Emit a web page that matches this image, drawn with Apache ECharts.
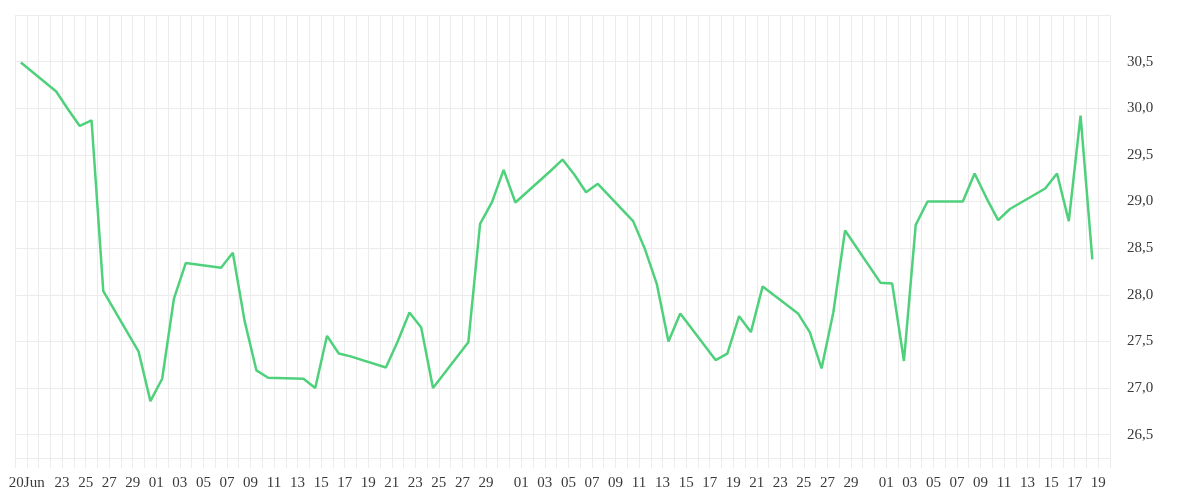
<!DOCTYPE html>
<html>
<head>
<meta charset="utf-8">
<script src="https://cdn.jsdelivr.net/npm/echarts@6/dist/echarts.min.js"></script>
<style>
  html, body { margin: 0; padding: 0; background: #ffffff; }
  #chart { width: 1200px; height: 500px; }
</style>
</head>
<body>
<div id="chart"></div>
<script>
// Trading dates (UTC calendar days) and closing values
const dates = [
  '2020-06-19','2020-06-22','2020-06-23','2020-06-24','2020-06-25','2020-06-26',
  '2020-06-29','2020-06-30','2020-07-01','2020-07-02','2020-07-03',
  '2020-07-06','2020-07-07','2020-07-08','2020-07-09','2020-07-10',
  '2020-07-13','2020-07-14','2020-07-15','2020-07-16','2020-07-17',
  '2020-07-20','2020-07-21','2020-07-22','2020-07-23','2020-07-24',
  '2020-07-27','2020-07-28','2020-07-29','2020-07-30','2020-07-31',
  '2020-08-03','2020-08-04','2020-08-05','2020-08-06','2020-08-07',
  '2020-08-10','2020-08-11','2020-08-12','2020-08-13','2020-08-14',
  '2020-08-17','2020-08-18','2020-08-19','2020-08-20','2020-08-21',
  '2020-08-24','2020-08-25','2020-08-26','2020-08-27','2020-08-28',
  '2020-08-31','2020-09-01','2020-09-02','2020-09-03','2020-09-04',
  '2020-09-07','2020-09-08','2020-09-09','2020-09-10','2020-09-11',
  '2020-09-14','2020-09-15','2020-09-16','2020-09-17','2020-09-18'
];
const values = [
  30.49, 30.18, 29.99, 29.81, 29.87, 28.04,
  27.39, 26.86, 27.10, 27.96, 28.34,
  28.29, 28.45, 27.72, 27.19, 27.11,
  27.10, 27.00, 27.56, 27.37, 27.34,
  27.22, 27.50, 27.81, 27.65, 27.00,
  27.49, 28.76, 28.99, 29.34, 28.99,
  29.33, 29.45, 29.29, 29.10, 29.19,
  28.79, 28.49, 28.12, 27.50, 27.80,
  27.30, 27.37, 27.77, 27.60, 28.09,
  27.80, 27.60, 27.21, 27.81, 28.69,
  28.13, 28.12, 27.29, 28.75, 29.00,
  29.00, 29.30, 29.04, 28.80, 28.92,
  29.14, 29.30, 28.79, 29.92, 28.38
];

// Axis range and tick labels
const xStart = '2020-06-19';
const xEnd = '2020-09-20';
const firstTickLabelDate = '2020-06-20';
const firstTickLabelText = '20Jun';
const hiddenTickDates = ['2020-06-19', '2020-06-21'];
const yMin = 26.25, yMax = 31.0, yStep = 0.25;
const yLabelValues = [26.5, 27.0, 27.5, 28.0, 28.5, 29.0, 29.5, 30.0, 30.5];

const DAY = 86400000;
const toTime = (d, h) => Date.parse(d + 'T' + (h || '00') + ':00:00Z');
const pad = n => (n < 10 ? '0' : '') + n;
const isoOf = v => new Date(v).toISOString().slice(0, 10);

const seriesData = dates.map((d, i) => [toTime(d, '12'), values[i]]);

const chart = echarts.init(document.getElementById('chart'), null, { renderer: 'canvas' });
const font = 'Liberation Serif';

chart.setOption({
  animation: false,
  backgroundColor: '#ffffff',
  grid: { left: 15, right: 90, top: 15, bottom: 42, containLabel: false },
  xAxis: {
    type: 'value',
    min: toTime(xStart),
    max: toTime(xEnd),
    interval: DAY,
    axisLine: { show: true, lineStyle: { color: '#ececec', width: 1 } },
    axisTick: { show: true, length: 10, lineStyle: { color: '#ececec' } },
    splitLine: { show: true, lineStyle: { color: '#ececec', width: 1 } },
    axisLabel: {
      margin: 18,
      color: '#3a3a3a',
      fontFamily: font,
      fontSize: 15,
      formatter: function (v) {
        const iso = isoOf(v);
        if (iso === firstTickLabelDate) return firstTickLabelText;
        if (hiddenTickDates.indexOf(iso) >= 0) return '';
        const day = new Date(v).getUTCDate();
        if (day % 2 === 1 && day !== 31) return pad(day);
        return '';
      }
    }
  },
  yAxis: {
    type: 'value',
    position: 'right',
    min: yMin,
    max: yMax,
    interval: yStep,
    axisLine: { show: false },
    axisTick: { show: false },
    splitLine: { show: true, lineStyle: { color: ['rgba(0,0,0,0)', '#ececec'], width: 1 } },
    axisLabel: {
      margin: 17,
      color: '#3a3a3a',
      fontFamily: font,
      fontSize: 15,
      padding: [5, 0, 0, 0],
      formatter: function (v) {
        const r = Math.round(v * 100) / 100;
        if (yLabelValues.indexOf(r) >= 0) return r.toFixed(1).replace('.', ',');
        return '';
      }
    }
  },
  series: [{
    type: 'line',
    data: seriesData,
    showSymbol: false,
    symbol: 'none',
    lineStyle: { color: '#4fd17c', width: 2.5 },
    itemStyle: { color: '#4fd17c' }
  }]
});
</script>
</body>
</html>
